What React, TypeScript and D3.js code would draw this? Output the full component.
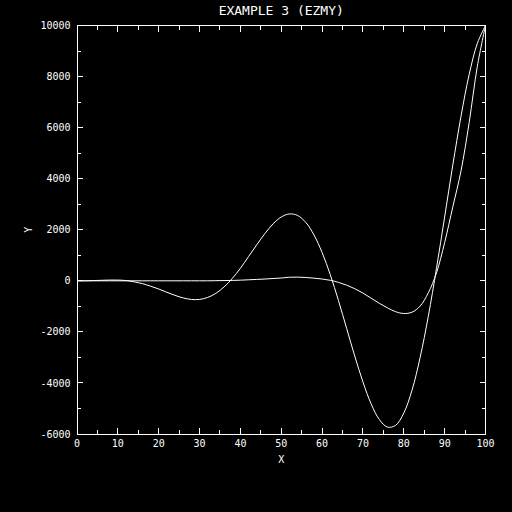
import React from "react";
import * as d3 from "d3";

// sample positions along X
const xValues = [
  0, 2, 4, 6, 8, 10, 12, 14, 16, 18, 20, 22, 24, 26, 28, 30, 32, 34, 36, 38, 40,
  42, 44, 46, 48, 50, 52, 54, 56, 58, 60, 62, 64, 66, 68, 70, 72, 74, 76, 78, 80,
  82, 84, 86, 88, 90, 92, 94, 96, 98, 100,
];

// the large oscillation
const curveA = [
  0, 0, 10, 20, 30, 30, 10, -40, -110, -210, -320, -450, -570, -670, -730, -730,
  -650, -490, -240, 90, 490, 950, 1410, 1850, 2230, 2500, 2620, 2560, 2290, 1800,
  1110, 240, -770, -1860, -2950, -3960, -4820, -5430, -5730, -5660, -5180, -4290,
  -3000, -1390, 490, 2500, 4540, 6440, 8080, 9300, 10000,
];

// the flatter one
const curveB = [
  0, 0, 0, 0, 0, 0, 0, 0, 0, 0, 0, 0, 0, 0, 0, 0, 0, 5, 10, 15, 25, 40, 55, 70,
  90, 110, 140, 145, 130, 105, 70, 20, -60, -170, -310, -480, -680, -880, -1060,
  -1210, -1280, -1230, -990, -470, 310, 1500, 2900, 4300, 6200, 8400, 10000,
];

const xTickLabels = [0, 10, 20, 30, 40, 50, 60, 70, 80, 90, 100];
const yTickLabels = [-6000, -4000, -2000, 0, 2000, 4000, 6000, 8000, 10000];

const W = 512;
const H = 512;
const left = 77;
const right = 485.5;
const top = 25.5;
const bottom = 434;
const font = "'DejaVu Sans Mono', monospace";

export default function App() {
  const x = d3.scaleLinear().domain([0, 100]).range([left, right]);
  const y = d3.scaleLinear().domain([-6000, 10000]).range([bottom, top]);

  const line = d3
    .line<number>()
    .x((_, i) => x(xValues[i]))
    .y((d) => y(d))
    .curve(d3.curveCatmullRom.alpha(0.5));

  const xMinor = x.ticks(20);
  const yMinor = y.ticks(16);

  return (
    <div style={{ position: "fixed", left: 0, top: 0 }}>
      <svg width={W} height={H} style={{ display: "block", background: "#000" }}>
        <rect x={0} y={0} width={W} height={H} fill="#000" />
        <g stroke="#fff" strokeWidth={1} shapeRendering="crispEdges" fill="none">
          <rect x={left} y={top} width={right - left} height={bottom - top} />
          {xMinor.map((t) => {
            const len = t % 10 === 0 ? 6 : 4;
            return (
              <g key={"xt" + t}>
                <line x1={x(t)} x2={x(t)} y1={bottom} y2={bottom - len} />
                <line x1={x(t)} x2={x(t)} y1={top} y2={top + len} />
              </g>
            );
          })}
          {yMinor.map((t) => {
            const len = t % 2000 === 0 ? 6 : 4;
            return (
              <g key={"yt" + t}>
                <line x1={left} x2={left + len} y1={y(t)} y2={y(t)} />
                <line x1={right} x2={right - len} y1={y(t)} y2={y(t)} />
              </g>
            );
          })}
        </g>

        <g stroke="#fff" strokeWidth={1} fill="none">
          <path d={line(curveA) || ""} />
          <path d={line(curveB) || ""} />
        </g>

        <g fill="#fff" fontFamily={font} fontSize={10}>
          {xTickLabels.map((t) => (
            <text key={"xl" + t} x={x(t)} y={447} textAnchor="middle">
              {t}
            </text>
          ))}
          {yTickLabels.map((t) => (
            <text key={"yl" + t} x={70.5} y={y(t) + 3.6} textAnchor="end">
              {t}
            </text>
          ))}
          <text x={(left + right) / 2} y={463} textAnchor="middle">
            X
          </text>
          <text
            transform={`translate(31.5, ${(top + bottom) / 2}) rotate(-90)`}
            textAnchor="middle"
          >
            Y
          </text>
        </g>

        <text
          x={(left + right) / 2}
          y={14.5}
          fill="#fff"
          fontFamily={font}
          fontSize={13}
          textAnchor="middle"
        >
          EXAMPLE 3 (EZMY)
        </text>
      </svg>
    </div>
  );
}
